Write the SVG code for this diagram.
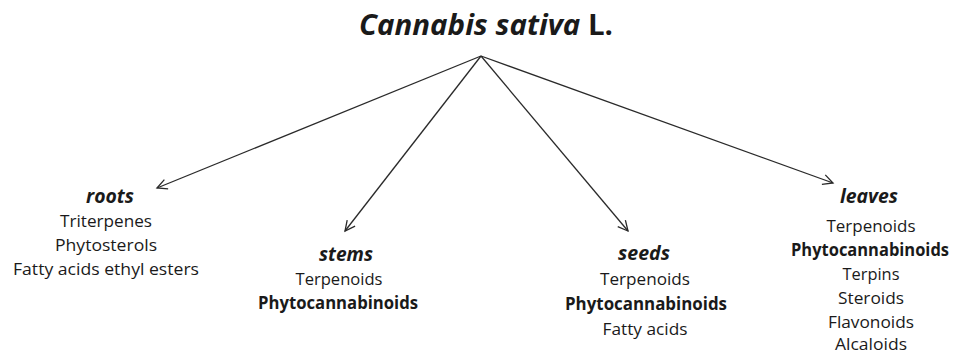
<svg xmlns="http://www.w3.org/2000/svg" width="953" height="355" viewBox="0 0 953 355">
<style>
text { font-family: "Open Sans", "Noto Sans", "DejaVu Sans", sans-serif; fill: #1a1a1a; text-anchor: middle; }
.title { font-size: 28px; font-weight: bold; }
.head { font-size: 19px; font-weight: bold; font-style: italic; }
.item { font-size: 17px; }
.bold { font-size: 17px; font-weight: bold; }
.conn line { stroke: #2a2a2a; stroke-width: 1.3; fill: none; marker-end: url(#arrow); }
</style>
<defs>
<marker id="arrow" markerUnits="userSpaceOnUse" markerWidth="14" markerHeight="14" refX="11" refY="6" orient="auto">
<path d="M1,1 L11,6 L1,11" fill="none" stroke="#2a2a2a" stroke-width="1.3"/>
</marker>
</defs>
<g id="root">
<text class="title" x="486" y="35" textLength="254" lengthAdjust="spacingAndGlyphs"><tspan font-style="italic">Cannabis sativa</tspan> L.</text>
</g>
<g id="connectors" class="conn">
<line x1="481" y1="56" x2="157" y2="188"/>
<line x1="481" y1="56" x2="345" y2="231"/>
<line x1="481" y1="56" x2="628" y2="231"/>
<line x1="481" y1="56" x2="833" y2="183"/>
</g>
<g id="roots">
<text class="head" x="110" y="203" textLength="48" lengthAdjust="spacingAndGlyphs">roots</text>
<text class="item" x="106" y="227" textLength="92" lengthAdjust="spacingAndGlyphs">Triterpenes</text>
<text class="item" x="106" y="251" textLength="102" lengthAdjust="spacingAndGlyphs">Phytosterols</text>
<text class="item" x="106" y="275" textLength="186" lengthAdjust="spacingAndGlyphs">Fatty acids ethyl esters</text>
</g>
<g id="stems">
<text class="head" x="346" y="261" textLength="54" lengthAdjust="spacingAndGlyphs">stems</text>
<text class="item" x="339" y="285" textLength="87" lengthAdjust="spacingAndGlyphs">Terpenoids</text>
<text class="bold" x="338" y="309" textLength="160" lengthAdjust="spacingAndGlyphs">Phytocannabinoids</text>
</g>
<g id="seeds">
<text class="head" x="644" y="260" textLength="52" lengthAdjust="spacingAndGlyphs">seeds</text>
<text class="item" x="645" y="285" textLength="90" lengthAdjust="spacingAndGlyphs">Terpenoids</text>
<text class="bold" x="646" y="310" textLength="162" lengthAdjust="spacingAndGlyphs">Phytocannabinoids</text>
<text class="item" x="645" y="335" textLength="85" lengthAdjust="spacingAndGlyphs">Fatty acids</text>
</g>
<g id="leaves">
<text class="head" x="869" y="203" textLength="58" lengthAdjust="spacingAndGlyphs">leaves</text>
<text class="item" x="871" y="232" textLength="89" lengthAdjust="spacingAndGlyphs">Terpenoids</text>
<text class="bold" x="870" y="256" textLength="158" lengthAdjust="spacingAndGlyphs">Phytocannabinoids</text>
<text class="item" x="871" y="280" textLength="57" lengthAdjust="spacingAndGlyphs">Terpins</text>
<text class="item" x="871" y="304" textLength="66" lengthAdjust="spacingAndGlyphs">Steroids</text>
<text class="item" x="871" y="328" textLength="86" lengthAdjust="spacingAndGlyphs">Flavonoids</text>
<text class="item" x="871" y="350" textLength="72" lengthAdjust="spacingAndGlyphs">Alcaloids</text>
</g>
</svg>
